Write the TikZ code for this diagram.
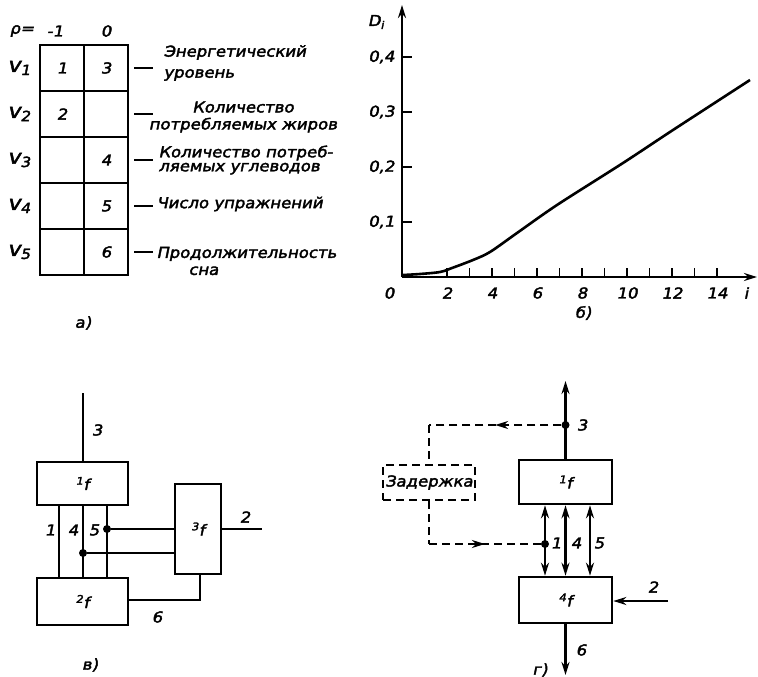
\documentclass[tikz,border=0pt]{standalone}
\usepackage{fontspec}
\newfontfamily\gost[FakeSlant=0.2,FakeBold=2.5,FakeStretch=1.1]{DejaVu Sans}
\usetikzlibrary{arrows.meta,decorations.markings}

\begin{document}
\begin{tikzpicture}[x=1pt, y=-1pt, font=\gost\fontsize{15}{17}\selectfont,
  >={Stealth[length=13pt,width=8pt]},
  cell/.style={draw, line width=2.4pt, minimum width=44pt, minimum height=46pt, inner sep=0pt},
  blk/.style={draw, line width=2.6pt, inner sep=0pt},
  lnk/.style={line width=2.6pt},
  dlnk/.style={line width=2pt, dash pattern=on 8pt off 5pt},
  hair/.style={line width=1.5pt},
  dot/.style={circle, fill, inner sep=0pt, minimum size=8pt},
  midarr/.style={postaction={decorate}, decoration={markings, mark=at position 0.5 with {\arrow{>}}}}]
\useasboundingbox (0,0) rectangle (758,677);

% а)
\node (rho) at (22,31) {ρ=};
\node (pm) at (55,31) {-1};
\node (p0) at (106,31) {0};
\foreach \r/\a/\b in {1/1/3,2/2/{},3/{}/4,4/{}/5,5/{}/6} {
  \node[cell] (c\r1) at (62,{68+46*(\r-1)}) {\a};
  \node[cell] (c\r2) at (106,{68+46*(\r-1)}) {\b};
  \node (v\r) at (19,{68+46*(\r-1)}) {\fontsize{20}{20}\selectfont v\textsubscript{\r}};
  \draw[hair] ([xshift=5pt]c\r2.east) -- ++(19,0);
}
\node[anchor=west, align=left] (e1) at (160,63) {Энергетический\\[4pt]уровень};
\node[align=center] (e2) at (243,117) {Количество\\потребляемых жиров};
\node[anchor=west, align=left] (e3) at (155,160) {Количество потреб-\\[-3pt]ляемых углеводов};
\node[anchor=west] (e4) at (153,204) {Число упражнений};
\node[anchor=west, align=left] (e5) at (153,261) {Продолжительность\\\hspace*{32pt}сна};
\node (la) at (83,323) {а)};

% б)
\coordinate (O) at (402,277);
\coordinate (ytop) at (402,5);
\coordinate (xend) at (757,277);
\draw[lnk,->] (O) -- (ytop);
\draw[lnk,->] (O) -- (xend);
\foreach \k in {1,...,4} {
  \draw[hair] (402,{277-55*\k}) -- ++(10,0);
  \node[anchor=east] (yl\k) at (398,{277-55*\k}) {0,\k};
}
\foreach \t in {2,...,14}
  \draw[hair] ({402+22.5*\t},277) -- ++(0,-9);
\foreach \t in {2,4,...,14}
  \node (xl\t) at ({402+22.5*\t},293) {\t};
\node (x0) at (389,293) {0};
\node (xi) at (746,293) {i};
\node (yD) at (376,22) {D\textsubscript{i}};
\draw[line width=2.6pt] plot[smooth] coordinates {(403,275) (420,274) (440,272) (452,268) (473,260) (490,252) (517,233) (557,205) (623,163) (673,130) (750,80)};
\node (lb) at (583,313) {б)};

% в)
\node[blk, minimum width=91pt, minimum height=43pt] (f1) at (82.5,483.5) {\textsuperscript{1}f};
\node[blk, minimum width=91pt, minimum height=47pt] (f2) at (82.5,601.5) {\textsuperscript{2}f};
\node[blk, minimum width=46pt, minimum height=90pt] (f3) at (198,529) {\textsuperscript{3}f};
\coordinate (o3) at (83,393);
\draw[lnk] (o3 |- f1.north) -- (o3);
\foreach \x in {59,83,107}
  \draw[lnk] (\x,0 |- f1.south) -- (\x,0 |- f2.north);
\node[dot] (d5) at (107,529) {};
\node[dot] (d4) at (83,553) {};
\draw[lnk] (d5) -- (d5 -| f3.west);
\draw[lnk] (d4) -- (d4 -| f3.west);
\coordinate (o2) at (262,529);
\draw[lnk] (o2 -| f3.east) -- (o2);
\coordinate (k6) at (200,600);
\draw[lnk] (k6 |- f3.south) -- (k6) -- (k6 -| f2.east);
\node (t3) at (97,430) {3};
\node (t1) at (50,530) {1};
\node (t4) at (73,530) {4};
\node (t5) at (94,530) {5};
\node (t2) at (245,517) {2};
\node (t6) at (157,617) {6};
\node (lv) at (90,665) {в)};

% г)
\node[blk, minimum width=93pt, minimum height=44pt] (g1) at (565.5,482) {\textsuperscript{1}f};
\node[blk, minimum width=93pt, minimum height=46pt] (g4) at (565.5,600) {\textsuperscript{4}f};
\node[blk, dlnk, minimum width=92pt, minimum height=35pt] (gz) at (429,482.5) {Задержка};
\coordinate (gtop) at (565.5,381);
\draw[lnk,->] (g1.north) -- (gtop);
\node[dot] (g3) at (565.5,425) {};
\draw[dlnk,midarr] (g3) -- (g3 -| gz.north);
\draw[dlnk] (g3 -| gz.north) -- (gz.north);
\node[dot] (gd1) at (545,544) {};
\draw[dlnk] (gz.south) -- (gz.south |- gd1);
\draw[dlnk,midarr] (gz.south |- gd1) -- (gd1);
\foreach \x in {545,565.5,590}
  \draw[lnk,<->] (\x,0 |- g1.south) -- (\x,0 |- g4.north);
\coordinate (gin) at (668,601);
\draw[lnk,->] (gin) -- (gin -| g4.east);
\coordinate (gout) at (565.5,675);
\draw[lnk,->] (g4.south) -- (gout);
\node (s3) at (582,425) {3};
\node (s1) at (556,543) {1};
\node (s4) at (576,543) {4};
\node (s5) at (599,543) {5};
\node (s2) at (653,587) {2};
\node (s6) at (581,650) {6};
\node (lg) at (540,670) {г)};
\end{tikzpicture}
\end{document}
